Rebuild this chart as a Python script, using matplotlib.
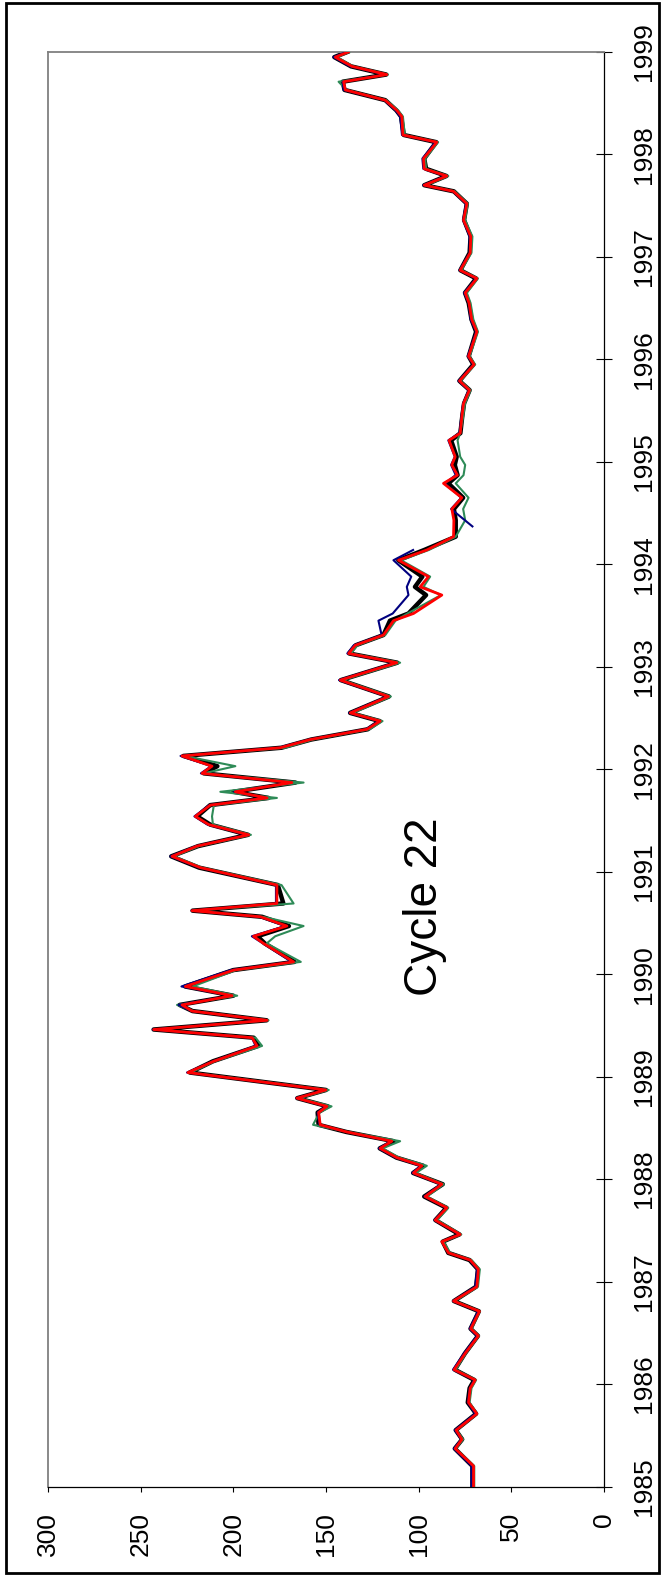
import numpy as np
import matplotlib
matplotlib.use("Agg")
import matplotlib.pyplot as plt
from matplotlib.patches import Rectangle

# ---- data ----
dates = [1985.00, 1985.20, 1985.37, 1985.46, 1985.55, 1985.71, 1985.82, 1985.96,
         1986.04, 1986.14, 1986.30, 1986.47, 1986.54, 1986.71, 1986.81, 1986.95,
         1987.12, 1987.21, 1987.28, 1987.39, 1987.46, 1987.60, 1987.72, 1987.83,
         1987.95, 1988.06, 1988.13, 1988.21, 1988.30, 1988.37, 1988.46, 1988.53,
         1988.65, 1988.71, 1988.79, 1988.87, 1989.04, 1989.15, 1989.30, 1989.38,
         1989.46, 1989.55, 1989.64, 1989.70, 1989.79, 1989.88, 1990.04, 1990.12,
         1990.30, 1990.37, 1990.47, 1990.56, 1990.62, 1990.69, 1990.87, 1991.04,
         1991.15, 1991.25, 1991.36, 1991.46, 1991.54, 1991.65, 1991.72, 1991.78,
         1991.87, 1991.96, 1992.03, 1992.13, 1992.21, 1992.29, 1992.39, 1992.47,
         1992.55, 1992.71, 1992.87, 1993.04, 1993.13, 1993.21, 1993.31, 1993.45,
         1993.52, 1993.70, 1993.78, 1993.88, 1994.04, 1994.14, 1994.27, 1994.43,
         1994.54, 1994.65, 1994.79, 1994.87, 1994.97, 1995.05, 1995.21, 1995.28,
         1995.44, 1995.57, 1995.70, 1995.79, 1995.95, 1996.03, 1996.27, 1996.39,
         1996.55, 1996.65, 1996.79, 1996.87, 1997.04, 1997.20, 1997.36, 1997.52,
         1997.64, 1997.70, 1997.79, 1997.86, 1997.96, 1998.12, 1998.19, 1998.37,
         1998.43, 1998.53, 1998.63, 1998.71, 1998.78, 1998.86, 1998.95, 1999.00]

red = [70.4, 70.4, 80.3, 76.7, 79.8, 68.6, 73.1, 72.2,
       69.5, 80.9, 74.9, 67.8, 71.9, 67.2, 81.2, 68.6,
       67.8, 72.2, 83.9, 87.5, 77.6, 91.1, 84.8, 96.5,
       87.5, 102.8, 98.3, 111.8, 120.8, 114.5, 138.7, 153.1,
       154.0, 149.5, 165.7, 150.1, 224.5, 210.6, 187.2, 189.9,
       243.0, 181.8, 222.3, 227.7, 200.7, 225.9, 199.8, 167.5,
       183.7, 189.1, 171.1, 185.4, 222.3, 176.5, 176.5, 217.8,
       233.1, 219.6, 191.7, 213.3, 220.5, 212.4, 181.8, 198.9,
       168.4, 216.9, 211.5, 227.7, 174.7, 158.5, 127.9, 120.8,
       136.9, 116.3, 142.3, 111.8, 137.8, 134.2, 119.0, 113.6,
       102.8, 87.5, 99.2, 94.7, 110.9, 95.6, 81.2, 81.0,
       82.1, 76.7, 86.6, 79.1, 82.1, 80.3, 83.6, 77.6,
       76.7, 75.8, 72.6, 78.0, 70.1, 73.1, 68.6, 71.4,
       72.8, 74.9, 68.6, 77.6, 72.2, 71.9, 75.8, 74.0,
       81.2, 97.0, 84.8, 97.0, 97.4, 90.2, 108.5, 109.1,
       111.8, 118.1, 139.6, 140.5, 117.2, 136.0, 145.0, 138.0]

black = [71.0, 71.0, 80.5, 76.5, 80.0, 69.0, 73.5, 72.5,
         70.0, 80.5, 75.0, 68.0, 72.0, 67.5, 81.0, 69.0,
         68.0, 72.5, 84.0, 87.0, 78.0, 91.0, 85.0, 97.0,
         87.0, 103.0, 97.5, 112.0, 121.0, 113.5, 139.0, 154.0,
         154.5, 149.0, 165.5, 150.0, 223.5, 211.0, 186.5, 189.0,
         243.0, 182.0, 222.0, 229.0, 200.0, 226.0, 200.0, 167.0,
         183.0, 187.0, 170.0, 184.5, 222.0, 173.0, 176.0, 218.5,
         233.5, 219.0, 192.0, 212.5, 219.5, 212.5, 181.0, 200.0,
         166.5, 216.0, 208.6, 227.0, 174.0, 158.0, 127.5, 121.0,
         137.0, 116.0, 142.0, 111.5, 137.5, 134.0, 119.0, 115.5,
         105.5, 96.0, 102.0, 98.0, 111.0, 97.0, 80.0, 80.0,
         81.0, 76.0, 84.0, 79.0, 80.5, 79.5, 82.5, 77.5,
         76.5, 75.5, 72.5, 78.0, 70.5, 73.0, 69.0, 71.5,
         73.0, 75.0, 69.0, 77.5, 72.5, 72.0, 75.5, 74.0,
         81.0, 97.0, 85.0, 96.0, 97.0, 90.5, 108.0, 109.5,
         112.0, 118.0, 140.0, 141.0, 117.5, 136.5, 145.5, 138.5]

green = [70.0, 70.0, 80.0, 76.0, 79.5, 68.5, 72.5, 71.5,
         69.0, 80.0, 74.5, 67.5, 71.5, 67.0, 80.5, 68.0,
         67.0, 71.5, 83.0, 86.5, 77.0, 90.0, 84.0, 95.5,
         86.5, 101.5, 95.6, 110.5, 119.5, 110.0, 138.0, 157.0,
         153.5, 147.0, 164.5, 148.5, 223.0, 210.0, 184.5, 188.0,
         242.0, 181.0, 221.5, 230.4, 197.9, 222.0, 198.5, 163.6,
         182.0, 177.4, 162.1, 184.0, 221.5, 167.5, 174.0, 217.0,
         232.0, 218.5, 190.5, 211.0, 211.5, 210.5, 176.5, 207.0,
         162.1, 216.0, 198.9, 226.5, 172.0, 157.0, 126.5, 119.5,
         135.5, 115.0, 141.0, 110.0, 136.5, 133.0, 118.0, 112.5,
         106.0, 88.0, 97.4, 93.8, 109.5, 94.5, 80.0, 74.9,
         76.0, 73.1, 80.0, 75.8, 74.9, 77.6, 79.0, 77.6,
         76.0, 75.0, 72.0, 77.5, 69.5, 72.5, 68.0, 70.5,
         72.0, 74.0, 68.0, 77.0, 71.5, 71.0, 75.0, 73.5,
         80.5, 96.0, 84.0, 96.0, 96.5, 89.5, 107.5, 108.5,
         111.0, 117.5, 139.0, 143.2, 116.5, 135.5, 144.0, 137.5]

blue = [71.5, 71.5, 81.0, 77.0, 80.5, 69.5, 73.5, 72.5,
        70.0, 81.5, 75.5, 68.5, 72.5, 68.0, 81.5, 69.5,
        68.5, 72.5, 84.0, 87.5, 78.0, 91.5, 85.0, 97.0,
        88.0, 103.5, 99.0, 112.5, 121.5, 115.0, 139.0, 153.5,
        154.5, 150.0, 166.0, 150.5, 225.0, 211.0, 188.0, 190.0,
        243.5, 182.5, 222.5, 229.6, 201.0, 228.0, 201.5, 168.5,
        184.0, 190.0, 172.0, 186.0, 222.5, 177.0, 177.0, 218.5,
        234.0, 220.0, 192.5, 214.0, 221.0, 213.0, 182.5, 199.5,
        169.0, 217.5, 212.0, 228.5, 175.5, 159.0, 128.5, 121.5,
        137.5, 117.0, 143.0, 112.5, 138.5, 135.0, 120.0, 121.7,
        114.0, 105.5, 106.4, 104.0, 113.6, 103.0, np.nan, 76.7,
        82.5, 77.0, 86.0, 80.0, 82.5, 80.5, 84.0, 78.0,
        77.0, 76.0, 73.0, 78.5, 70.5, 73.5, 69.0, 72.0,
        73.0, 75.5, 69.0, 78.0, 72.5, 72.5, 76.0, 74.5,
        81.5, 97.5, 85.5, 97.5, 98.0, 91.0, 109.0, 110.0,
        112.5, 118.5, 140.5, 141.0, 118.0, 137.0, 146.0, 139.0]

# extra blue sample at the start of its post-gap segment
blue_gap_date = 1994.37
blue_gap_value = 71.0

value_ticks = [0, 50, 100, 150, 200, 250, 300]
year_ticks = list(range(1985, 2000))
annotation = "Cycle 22"

# ---- figure ----
plt.rcParams['font.family'] = ['Liberation Sans', 'DejaVu Sans']
W, H = 663, 1585
fig = plt.figure(figsize=(W / 100, H / 100), dpi=100)
ax = fig.add_axes([48 / W, 1 - 1486.5 / H, (604 - 48) / W, (1486.5 - 52) / H])

# blue series with its gap before the mid-1994 sample
gap_idx = 87
bx = dates[:gap_idx] + [dates[gap_idx], blue_gap_date] + dates[gap_idx + 1:]
by = blue[:gap_idx] + [np.nan, blue_gap_value] + blue[gap_idx + 1:]

ax.plot(black, dates, color='black', lw=3.2, zorder=2)
ax.plot(green, dates, color='#2E8B57', lw=1.5, zorder=3)
ax.plot(by, bx, color='#000080', lw=1.5, zorder=4)
ax.plot(red, dates, color='#FF0000', lw=2.0, zorder=5)

ax.set_xlim(300, 0)
ax.set_ylim(1985, 1999)

ax.set_xticks(value_ticks)
ax.set_xticklabels([str(v) for v in value_ticks], rotation=90)
ax.yaxis.tick_right()
ax.set_yticks(year_ticks)
ax.set_yticklabels([str(y) for y in year_ticks], rotation=90, va='center')

ax.tick_params(axis='x', direction='out', length=3.5, width=0.8, pad=15,
               labelsize=19, colors='black')
ax.tick_params(axis='y', direction='inout', length=12, width=0.8, pad=14,
               labelsize=19, colors='black')

for s in ['top', 'left']:
    ax.spines[s].set_color('#808080')
    ax.spines[s].set_linewidth(1.3)
for s in ['right', 'bottom']:
    ax.spines[s].set_color('black')
    ax.spines[s].set_linewidth(0.9)

ax.text(96.5, 1990.66, annotation, rotation=90, fontsize=33,
        ha='center', va='center')

fig.patches.append(Rectangle((6 / W, 1 - 1573 / H), (659 - 6) / W, (1573 - 3) / H,
                             transform=fig.transFigure, fill=False,
                             ec='black', lw=2.0))

fig.savefig('out.png', dpi=100)
